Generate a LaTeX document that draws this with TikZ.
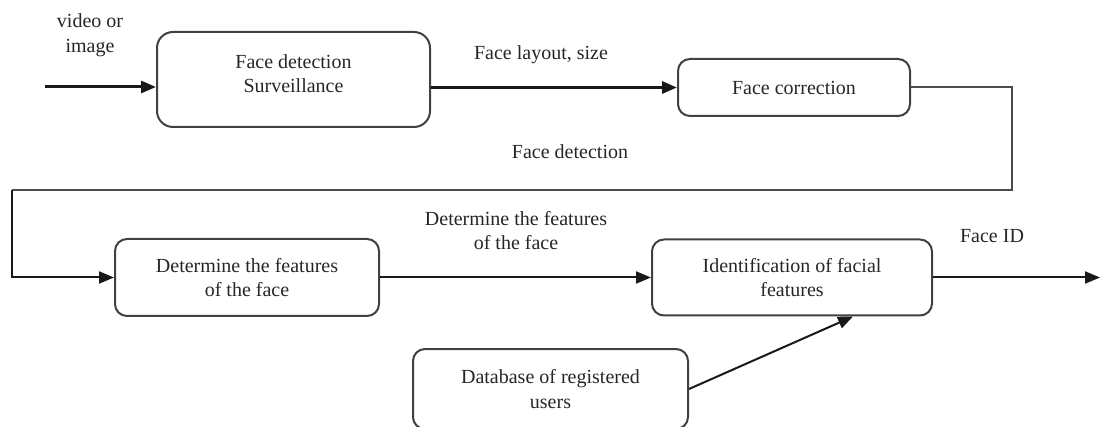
\documentclass[tikz,border=0pt]{standalone}
\usepackage{fontspec}
\setmainfont{Liberation Serif}
\usetikzlibrary{arrows.meta,calc}
\begin{document}
\begin{tikzpicture}[x=1pt,y=-1pt,
  font=\fontsize{20}{24.5}\selectfont,
  every node/.style={text=black!85},
  stage/.style={draw=black!75,line width=2pt,rounded corners=12pt,align=center,inner sep=0pt},
  lbl/.style={align=center,inner sep=0pt},
  flow/.style={line width=2pt,draw=black!90,-{Triangle[length=15pt,width=12pt]}},
  thickflow/.style={flow,line width=3pt},
  plain/.style={line width=2pt,draw=black!70}]
\useasboundingbox (0,0) rectangle (1102,427);
% boxes
\node[stage,minimum width=273pt,minimum height=95pt,rounded corners=16pt] (det) at (293.5,79.5) {Face detection\\Surveillance\rule[-12pt]{0pt}{0pt}};
\node[stage,minimum width=232pt,minimum height=57pt] (cor) at (794,87.5) {Face correction};
\node[stage,minimum width=264pt,minimum height=77pt] (feat) at (247,277.5) {Determine the features\\of the face};
\node[stage,minimum width=280pt,minimum height=76pt] (ident) at (792,277.5) {Identification of facial\\features};
\node[stage,minimum width=275pt,minimum height=80pt] (db) at (550.5,389) {Database of registered\\users};
% free ends
\coordinate (in) at (45,87);
\coordinate (out) at (1100,277.5);
\coordinate (c1) at (1012,190);
\coordinate (c2) at (12,190);
% labels
\node[lbl] (lvid) at (90,35) {video or\\image};
\node[lbl] (llay) at (541,55) {Face layout, size};
\node[lbl] (ldet) at (570,152) {Face detection};
\node[lbl] (lfeat) at (516,230.5) {Determine the features\\of the face};
\node[lbl] (lid) at (992,236) {Face ID};
% connectors
\draw[thickflow] (in) -- (in -| det.west);
\draw[thickflow] (det.east |- cor.west) -- (cor.west);
\draw[plain] (cor.east) -| (c1) -- (c2);
\draw[flow] (c2) |- (feat.west);
\draw[flow] (feat.east) -- (ident.west);
\draw[flow] (ident.east) -- (out);
\draw[flow] (db.east) -- ($(ident.south)+(61,0)$);
\end{tikzpicture}
\end{document}
